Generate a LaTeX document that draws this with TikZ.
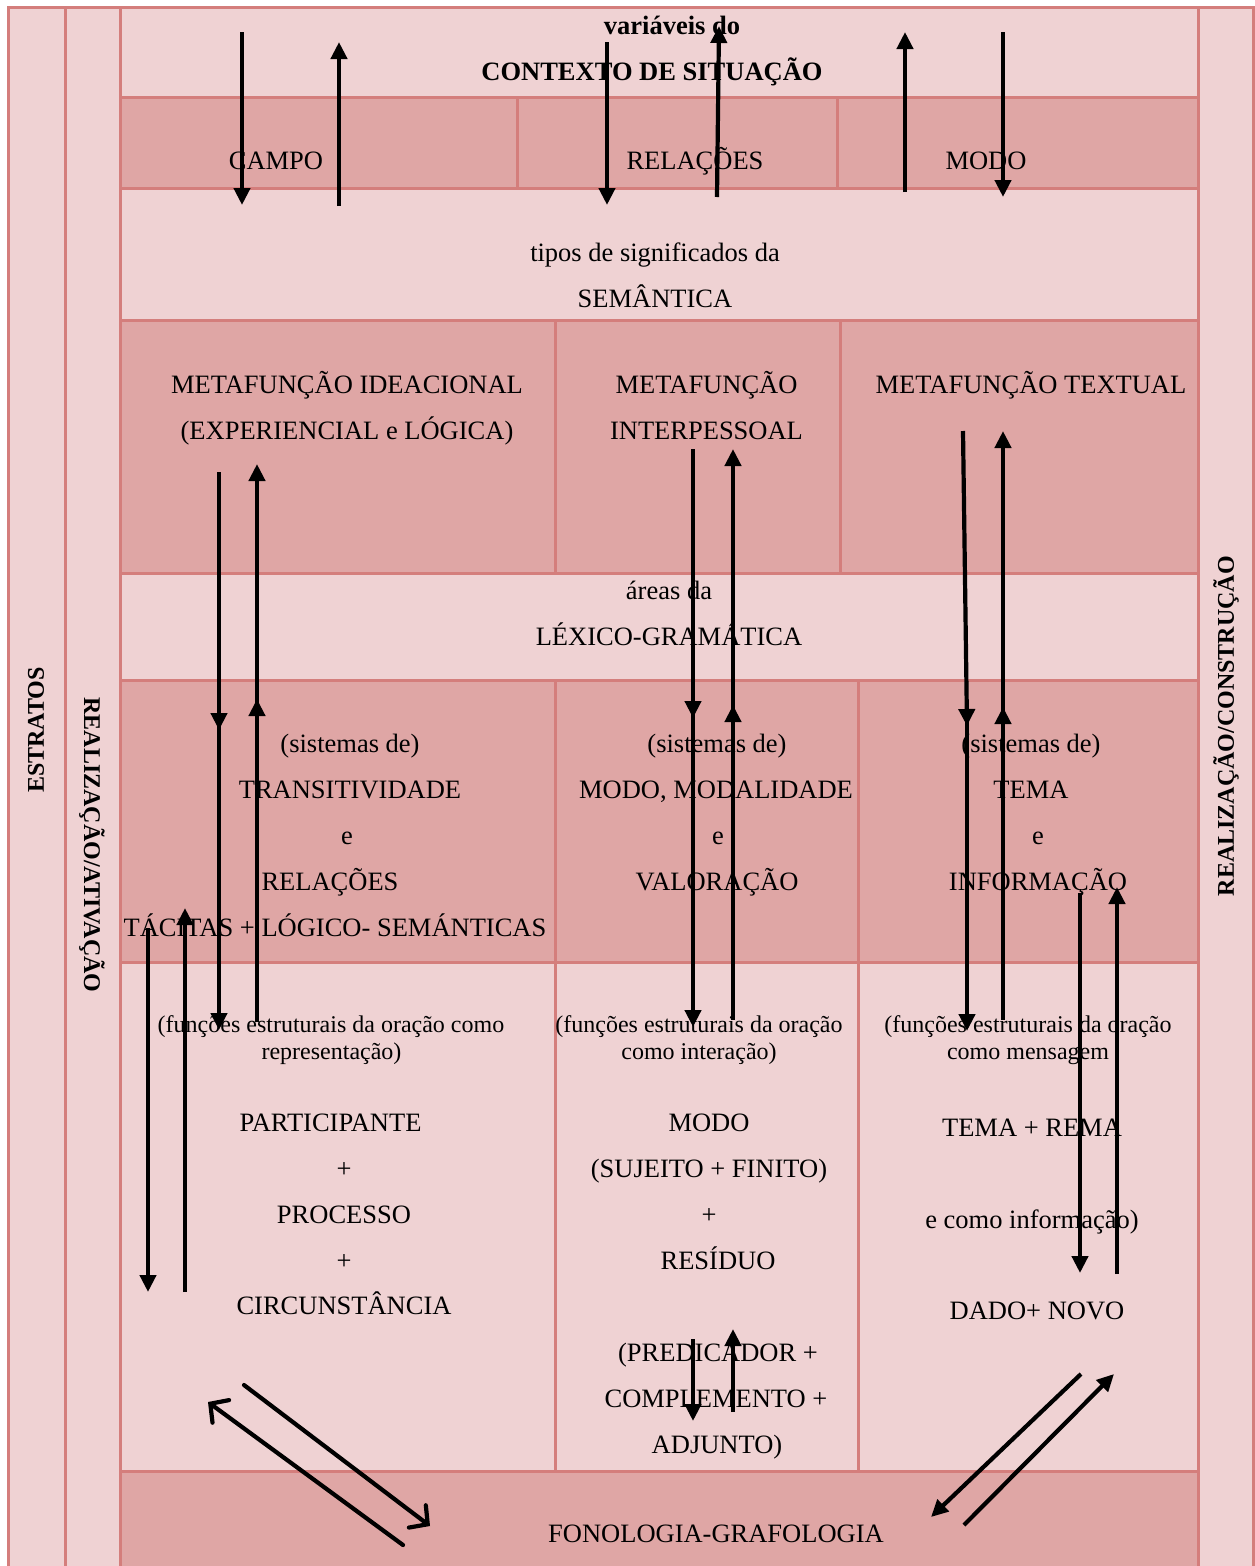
\documentclass[tikz,border=0pt]{standalone}
\usepackage{fontspec}
\setmainfont{Liberation Serif}
\usetikzlibrary{arrows.meta}
\definecolor{cellline}{RGB}{212,126,124}
\definecolor{celllight}{RGB}{239,210,211}
\definecolor{celldark}{RGB}{223,166,165}
\begin{document}
\begin{tikzpicture}[x=1pt,y=-1pt,
  light/.style={fill=celllight,draw=cellline,line width=3pt},
  dark/.style={fill=celldark,draw=cellline,line width=3pt},
  lbl/.style={anchor=base,inner sep=0pt,font=\fontsize{26.5}{30}\selectfont},
  lblb/.style={lbl,font=\fontsize{26.5}{30}\selectfont\bfseries},
  small/.style={anchor=base,inner sep=0pt,font=\fontsize{24}{27}\selectfont},
  side/.style={inner sep=0pt,font=\fontsize{24}{28}\selectfont\bfseries},
  arr/.style={line width=4.2pt,-{Triangle[length=17pt,width=16pt]}},
  barb/.style={line width=4.2pt,line cap=round,-{Straight Barb[length=13pt,width=28pt,line cap=round]}},
]
\useasboundingbox (0,0) rectangle (1255,1566);
\clip (0,0) rectangle (1255,1566);

% side columns
\draw[light] (8,7) rectangle (65,1575);
\draw[light] (65,7) rectangle (120,1575);
\draw[light] (1198,7) rectangle (1253,1575);

% rows of the main table
\draw[light] (120,7) rectangle (1198,97);
\draw[dark] (120,97) rectangle (517,188);
\draw[dark] (517,97) rectangle (837,188);
\draw[dark] (837,97) rectangle (1198,188);
\draw[light] (120,188) rectangle (1198,320);
\draw[dark] (120,320) rectangle (555,573);
\draw[dark] (555,320) rectangle (840,573);
\draw[dark] (840,320) rectangle (1198,573);
\draw[light] (120,573) rectangle (1198,680);
\draw[dark] (120,680) rectangle (555,962);
\draw[dark] (555,680) rectangle (858,962);
\draw[dark] (858,680) rectangle (1198,962);
\draw[light] (120,962) rectangle (555,1471);
\draw[light] (555,962) rectangle (858,1471);
\draw[light] (858,962) rectangle (1198,1471);
\draw[dark] (120,1471) rectangle (1198,1575);

% side labels
\node[side,rotate=90] (estratos) at (36,730) {ESTRATOS};
\node[side,rotate=-90] (ativ) at (92,845) {REALIZAÇÃO/ATIVAÇÃO};
\node[side,rotate=90] (constr) at (1226,726) {REALIZAÇÃO/CONSTRUÇÃO};

% context of situation
\node[lblb] (ctx1) at (672,34) {variáveis do};
\node[lblb] (ctx2) at (652,80) {CONTEXTO DE SITUAÇÃO};
\node[lbl] (campo) at (276,169) {CAMPO};
\node[lbl] (relac) at (695,169) {RELAÇÕES};
\node[lbl] (modo) at (986,169) {MODO};

% semantics
\node[lbl] (sem1) at (655,261) {tipos de significados da};
\node[lbl] (sem2) at (655,307) {SEMÂNTICA};
\node[lbl] (ide1) at (347,393) {METAFUNÇÃO IDEACIONAL};
\node[lbl] (ide2) at (347,439) {(EXPERIENCIAL e LÓGICA)};
\node[lbl] (int1) at (706.5,393) {METAFUNÇÃO};
\node[lbl] (int2) at (706.5,439) {INTERPESSOAL};
\node[lbl] (txt1) at (1031,393) {METAFUNÇÃO TEXTUAL};

% lexicogrammar
\node[lbl] (lg1) at (669,599) {áreas da};
\node[lbl] (lg2) at (669,645) {LÉXICO-GRAMÁTICA};
\node[lbl] (sa1) at (350,752) {(sistemas de)};
\node[lbl] (sa2) at (350,798) {TRANSITIVIDADE};
\node[lbl] (sa3) at (347,844) {e};
\node[lbl] (sa4) at (330,890) {RELAÇÕES};
\node[lbl] (sa5) at (335,936) {TÁCITAS + LÓGICO- SEMÁNTICAS};
\node[lbl] (sb1) at (717,752) {(sistemas de)};
\node[lbl] (sb2) at (716,798) {MODO, MODALIDADE};
\node[lbl] (sb3) at (718,844) {e};
\node[lbl] (sb4) at (717,890) {VALORAÇÃO};
\node[lbl] (sc1) at (1031,752) {(sistemas de)};
\node[lbl] (sc2) at (1031,798) {TEMA};
\node[lbl] (sc3) at (1038,844) {e};
\node[lbl] (sc4) at (1038,890) {INFORMAÇÃO};

% structural functions
\node[small] (fa1) at (331,1032) {(funções estruturais da oração como};
\node[small] (fa2) at (331.5,1059) {representação)};
\node[small] (fb1) at (699,1032) {(funções estruturais da oração};
\node[small] (fb2) at (699,1059) {como interação)};
\node[small] (fc1) at (1028,1032) {(funções estruturais da oração};
\node[small] (fc2) at (1028,1059) {como mensagem};
\node[lbl] (pa1) at (330.5,1131) {PARTICIPANTE};
\node[lbl] (pa2) at (344,1177) {+};
\node[lbl] (pa3) at (344,1223) {PROCESSO};
\node[lbl] (pa4) at (344,1269) {+};
\node[lbl] (pa5) at (344,1314) {CIRCUNSTÂNCIA};
\node[lbl] (pb1) at (709,1131) {MODO};
\node[lbl] (pb2) at (709,1177) {(SUJEITO + FINITO)};
\node[lbl] (pb3) at (709,1223) {+};
\node[lbl] (pb4) at (718,1269) {RESÍDUO};
\node[lbl] (pb5) at (718,1361) {(PREDICADOR +};
\node[lbl] (pb6) at (716,1407) {COMPLEMENTO +};
\node[lbl] (pb7) at (717,1453) {ADJUNTO)};
\node[lbl] (pc1) at (1032,1136) {TEMA + REMA};
\node[lbl] (pc2) at (1032,1228) {e como informação)};
\node[lbl] (pc3) at (1037,1319) {DADO+ NOVO};
\node[lbl] (fono) at (716,1542) {FONOLOGIA-GRAFOLOGIA};

% arrow end points
\coordinate (a1s) at (242,32);   \coordinate (a1e) at (242,205);
\coordinate (a2s) at (339,206);  \coordinate (a2e) at (339,42);
\coordinate (a3s) at (607,42);   \coordinate (a3e) at (607,205);
\coordinate (a4s) at (717,197);  \coordinate (a4e) at (719,26);
\coordinate (a5s) at (905,192);  \coordinate (a5e) at (905,32);
\coordinate (a6s) at (1003,32);  \coordinate (a6e) at (1003,197);

\coordinate (b1s) at (219,472);  \coordinate (b1e) at (219,730);
\coordinate (b2s) at (219,725);  \coordinate (b2e) at (219,1030);
\coordinate (b3s) at (257,1022); \coordinate (b3e) at (257,699);
\coordinate (b4s) at (257,704);  \coordinate (b4e) at (257,464);
\coordinate (b5s) at (148,928);  \coordinate (b5e) at (148,1292);
\coordinate (b6s) at (185,1292); \coordinate (b6e) at (185,908);

\coordinate (c1s) at (693,449);  \coordinate (c1e) at (693,718);
\coordinate (c2s) at (693,713);  \coordinate (c2e) at (693,1027);
\coordinate (c3s) at (733,1020); \coordinate (c3e) at (733,705);
\coordinate (c4s) at (733,710);  \coordinate (c4e) at (733,449);
\coordinate (c5s) at (693,1339); \coordinate (c5e) at (693,1421);
\coordinate (c6s) at (733,1412); \coordinate (c6e) at (733,1329);

\coordinate (d1s) at (963,431);  \coordinate (d1e) at (967,726);
\coordinate (d2s) at (967,721);  \coordinate (d2e) at (967,1031);
\coordinate (d3s) at (1003,1020);\coordinate (d3e) at (1003,707);
\coordinate (d4s) at (1003,712); \coordinate (d4e) at (1003,431);
\coordinate (d5s) at (1080,893); \coordinate (d5e) at (1080,1273);
\coordinate (d6s) at (1117,1274);\coordinate (d6e) at (1117,887);

\coordinate (g1s) at (244,1385); \coordinate (g1e) at (430,1526);
\coordinate (g2s) at (403,1545); \coordinate (g2e) at (208,1402);
\coordinate (g3s) at (1081,1374);\coordinate (g3e) at (931,1517);
\coordinate (g4s) at (964,1525); \coordinate (g4e) at (1114,1374);

% vertical arrows
\foreach \p in {a1,a2,a3,a4,a5,a6,b1,b2,b3,b4,b5,b6,c1,c2,c3,c4,c5,c6,d1,d2,d3,d4,d5,d6}
  \draw[arr] (\p s) -- (\p e);

% diagonal arrows towards phonology/graphology
\draw[barb] (g1s) -- (g1e);
\draw[barb] (g2s) -- (g2e);
\draw[arr] (g3s) -- (g3e);
\draw[arr] (g4s) -- (g4e);
\end{tikzpicture}
\end{document}
